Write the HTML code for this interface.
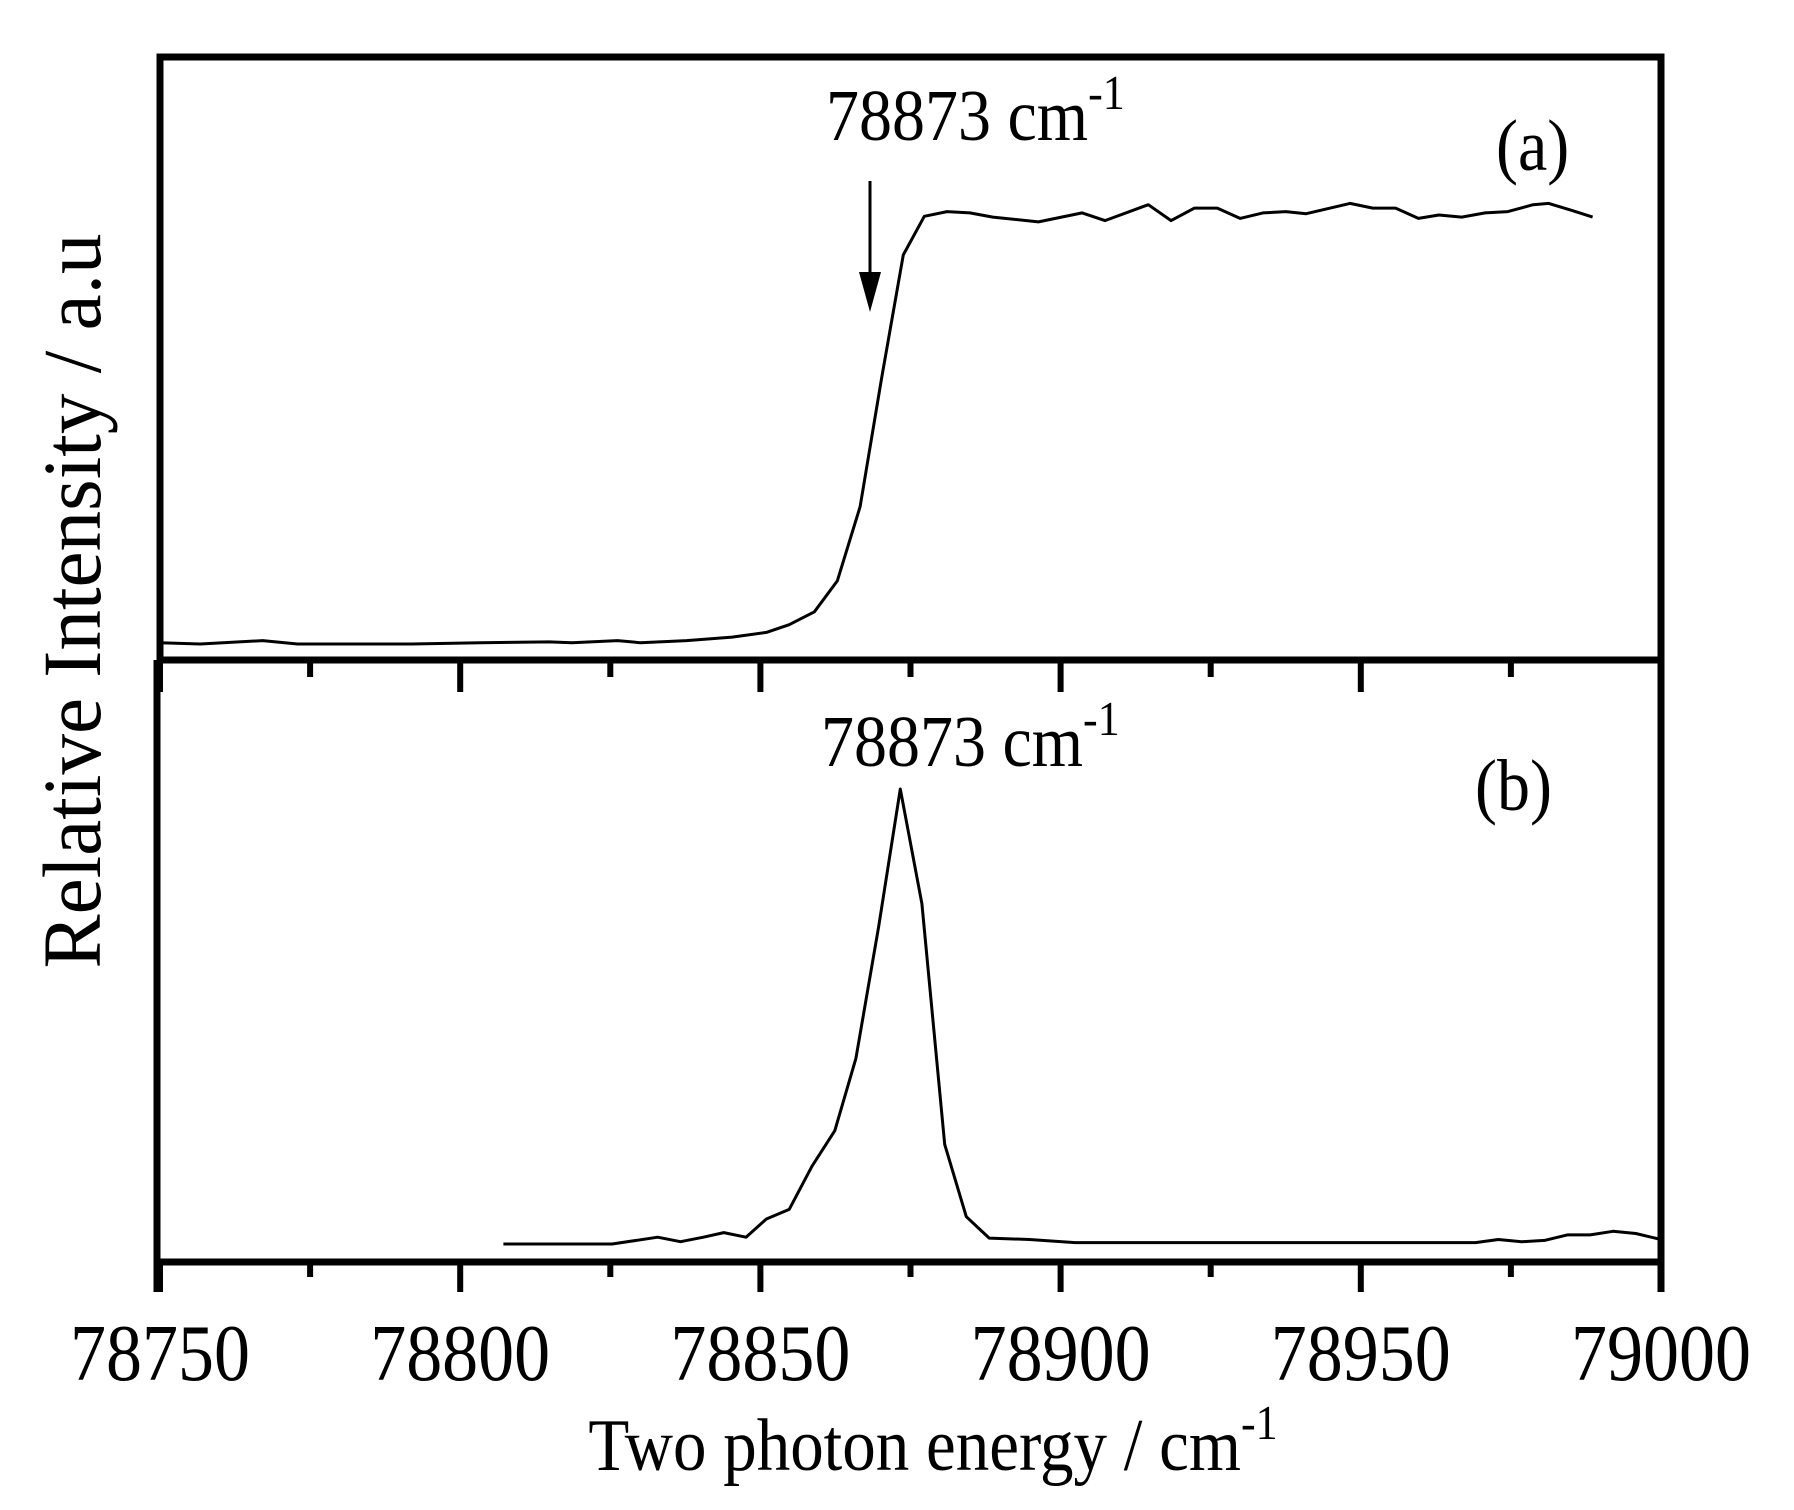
<!DOCTYPE html>
<html><head><meta charset="utf-8"><style>
html,body{margin:0;padding:0;background:#fff;}
svg{display:block;}
text{font-family:"Liberation Serif","DejaVu Serif",serif;fill:#000;}
</style></head><body>
<svg id="chart" width="1794" height="1510" viewBox="0 0 1794 1510" xmlns="http://www.w3.org/2000/svg">
<g id="frame"></g>
<g id="ticks"></g>
<g id="ticklabels"></g>
<g id="series"></g>
<g transform="translate(0,1470) scale(1,1.1) translate(0,-1470)">
<text x="933" y="1470" font-size="67" text-anchor="middle">Two photon energy / cm<tspan dy="-28" font-size="44">-1</tspan></text>
</g>
<text transform="translate(100,601) rotate(-90) scale(1,1.12)" font-size="74" text-anchor="middle" textLength="735" lengthAdjust="spacingAndGlyphs">Relative Intensity / a.u</text>
<text x="826" y="140" font-size="66" transform="translate(0,140) scale(1,1.1) translate(0,-140)">78873 cm<tspan dy="-28" font-size="44">-1</tspan></text>
<line x1="870" y1="181" x2="870" y2="280" stroke="#000" stroke-width="3"/>
<polygon points="859,272 881,272 870,312" fill="#000"/>
<text x="1496" y="170" font-size="66" transform="translate(0,170) scale(1,1.1) translate(0,-170)">(a)</text>
<text x="821" y="766" font-size="66" transform="translate(0,766) scale(1,1.1) translate(0,-766)">78873 cm<tspan dy="-28" font-size="44">-1</tspan></text>
<text x="1475" y="810" font-size="66" transform="translate(0,810) scale(1,1.1) translate(0,-810)">(b)</text>
</svg>
<script>
const xTicks = [78750, 78800, 78850, 78900, 78950, 79000];
const xTickLabels = ["78750", "78800", "78850", "78900", "78950", "79000"];
const energyA = [78750.0,78756.7,78767.1,78772.9,78780.5,78791.9,78803.4,78814.8,78818.6,78826.2,78830.0,78837.7,78845.3,78851.0,78854.8,78859.0,78862.8,78866.6,78870.2,78873.8,78877.3,78881.1,78884.9,78888.7,78896.3,78903.6,78907.4,78914.6,78918.4,78922.3,78926.1,78929.9,78933.7,78937.5,78940.9,78948.2,78952.0,78955.8,78959.6,78963.0,78966.8,78970.7,78974.5,78978.7,78981.3,78985.1,78988.6];
const intensityA = [0.003,0,0.008,0,0,0,0.003,0.005,0.003,0.008,0.003,0.008,0.016,0.027,0.045,0.075,0.147,0.32,0.621,0.907,0.997,1.008,1.005,0.995,0.984,1.005,0.987,1.024,0.987,1.016,1.016,0.992,1.005,1.008,1.003,1.027,1.016,1.016,0.992,1.0,0.995,1.005,1.008,1.024,1.027,1.011,0.995];
const energyB = [78807.2,78816.7,78825.3,78832.9,78836.7,78840.5,78843.9,78847.6,78851.0,78854.8,78858.6,78862.4,78865.9,78869.7,78873.3,78876.9,78880.7,78884.3,78888.1,78894.8,78902.4,78913.9,78932.9,78952.0,78959.6,78969.1,78972.9,78976.8,78980.6,78984.4,78988.2,78992.0,78995.8,79000.0];
const intensityB = [0,0,0,0.015,0.005,0.015,0.025,0.015,0.055,0.076,0.171,0.249,0.408,0.698,1,0.748,0.219,0.060,0.013,0.010,0.003,0.003,0.003,0.003,0.003,0.003,0.010,0.005,0.008,0.020,0.020,0.028,0.023,0.010];

const NS = "http://www.w3.org/2000/svg";
const X0 = 160, X1 = 1661, E0 = 78750, E1 = 79000;
function xScale(e){ return X0 + (e - E0) / (E1 - E0) * (X1 - X0); }
function yA(v){ return 644 - v * 429; }
function yB(v){ return 1244 - v * 455; }
function mk(tag, attrs, parent){ const el = document.createElementNS(NS, tag); for (const k in attrs) el.setAttribute(k, attrs[k]); parent.appendChild(el); return el; }

const frame = document.getElementById('frame');
const fA = mk('rect', {x:160, y:57, width:1501, height:603, fill:'none', stroke:'#000', 'stroke-width':7}, frame);


const fB = mk('path', {d:'M157,660 V1292 M157,1262 H1661 M1661,660 V1292', fill:'none', stroke:'#000', 'stroke-width':7}, frame);



const ticks = document.getElementById('ticks');
const labels = document.getElementById('ticklabels');
for (let e = E0; e <= E1; e += 25) {
  const major = (e - E0) % 50 === 0;
  const x = xScale(e);
  const t1 = mk('line', {x1:x, y1:660, x2:x, y2:660 + (major ? 32 : 17), stroke:'#000', 'stroke-width':6}, ticks);
  
  
  const t2 = mk('line', {x1:x, y1:1262, x2:x, y2:1262 + (major ? 30 : 15), stroke:'#000', 'stroke-width':6}, ticks);
  
  
}
xTicks.forEach((e, i) => {
  const t = mk('text', {x:xScale(e), y:1380, 'font-size':72, 'text-anchor':'middle', transform:'translate(0,1380) scale(1,1.12) translate(0,-1380)'}, labels);
  t.textContent = xTickLabels[i];
  
  
});

const series = document.getElementById('series');
const pA = mk('polyline', {points: energyA.map((e,i) => xScale(e).toFixed(1) + ',' + yA(intensityA[i]).toFixed(1)).join(' '), fill:'none', stroke:'#000', 'stroke-width':3, 'stroke-linejoin':'round'}, series);


const pB = mk('polyline', {points: energyB.map((e,i) => xScale(e).toFixed(1) + ',' + yB(intensityB[i]).toFixed(1)).join(' '), fill:'none', stroke:'#000', 'stroke-width':3, 'stroke-linejoin':'round'}, series);


</script>
</body></html>
